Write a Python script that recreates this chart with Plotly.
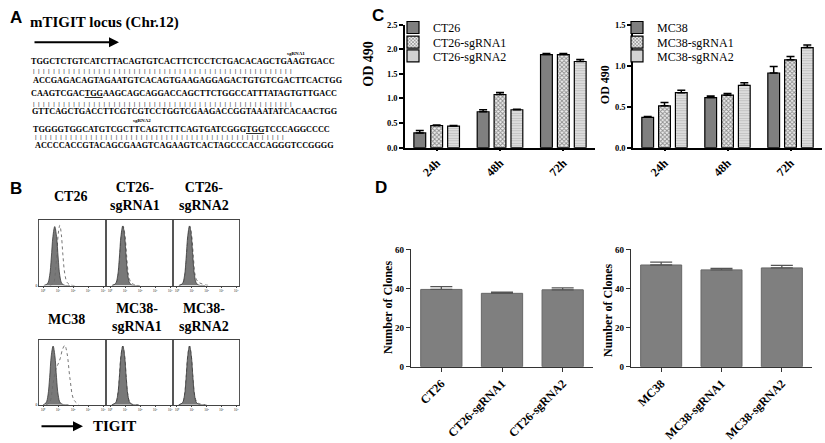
import plotly.graph_objects as go

W, H = 825, 443
SERIF = "Liberation Serif"
SANS = "Liberation Sans"

# ── Panel A: sequence ─────────────────────────────────────────────────────
seq_lines = [
    "TGGCTCTGTCATCTTACAGTGTCACTTCTCCTCTGACACAGCTGAAGTGACC",
    "ACCGAGACAGTAGAATGTCACAGTGAAGAGGAGACTGTGTCGACTTCACTGG",
    "CAAGTCGAC<u>TGG</u>AAGCAGCAGGACCAGCTTCTGGCCATTTATAGTGTTGACC",
    "GTTCAGCTGACCTTCGTCGTCCTGGTCGAAGACCGGTAAATATCACAACTGG",
    "TGGGGTGGCATGTCGCTTCAGTCTTCAGTGATCGGG<u>TGG</u>TCCCAGGCCCC",
    "ACCCCACCGTACAGCGAAGTCAGAAGTCACTAGCCCACCAGGGTCCGGGG",
]
pair_lengths = [52, 52, 50]

# ── Panel B: flow histograms (x in log10 decades, y in % of max) ──────────
hist_titles = ["CT26", "CT26-<br>sgRNA1", "CT26-<br>sgRNA2",
               "MC38", "MC38-<br>sgRNA1", "MC38-<br>sgRNA2"]
iso_x = [[0.05, 0.3, 0.44, 0.55, 0.66, 0.78, 0.9, 1.01, 1.12, 1.26, 1.5, 1.8],
         [0.12, 0.37, 0.51, 0.62, 0.73, 0.85, 0.97, 1.08, 1.19, 1.33, 1.57, 1.9],
         [0.12, 0.37, 0.51, 0.62, 0.73, 0.85, 0.97, 1.08, 1.19, 1.33, 1.57, 1.9],
         [0.0, 0.2, 0.33, 0.44, 0.55, 0.67, 0.79, 0.9, 1.01, 1.15, 1.39, 1.7],
         [0.12, 0.37, 0.51, 0.62, 0.73, 0.85, 0.97, 1.08, 1.19, 1.33, 1.57, 1.9],
         [0.12, 0.37, 0.51, 0.62, 0.73, 0.85, 0.97, 1.08, 1.19, 1.33, 1.57, 1.9]]
iso_y = [[0, 3, 15, 42, 75, 90, 75, 42, 15, 3, 0, 0],
         [0, 3, 15, 42, 76, 91, 76, 42, 15, 3, 0, 0],
         [0, 3, 15, 42, 76, 91, 76, 42, 15, 3, 0, 0],
         [0, 3, 15, 42, 76, 91, 76, 42, 15, 3, 0, 0],
         [0, 3, 15, 42, 76, 91, 76, 42, 15, 3, 0, 0],
         [0, 3, 15, 42, 76, 91, 76, 42, 15, 3, 0, 0]]
tig_x = [[0.45, 0.7, 0.82, 0.92, 1.02, 1.12, 1.22, 1.32, 1.45, 1.6, 1.8, 2.1],
         [0.15, 0.4, 0.54, 0.65, 0.76, 0.88, 1.0, 1.11, 1.23, 1.39, 1.65, 2.0],
         [0.15, 0.4, 0.54, 0.65, 0.76, 0.88, 1.0, 1.11, 1.23, 1.41, 1.75, 2.2],
         [0.2, 0.45, 0.65, 0.85, 1.0, 1.15, 1.3, 1.45, 1.6, 1.8, 2.05, 2.4],
         [0.12, 0.37, 0.51, 0.62, 0.73, 0.85, 0.97, 1.08, 1.19, 1.33, 1.57, 1.9],
         [0.12, 0.37, 0.51, 0.62, 0.73, 0.85, 0.97, 1.08, 1.19, 1.35, 1.6, 2.0]]
tig_y = [[0, 4, 20, 50, 80, 92, 78, 48, 18, 5, 1, 0],
         [0, 3, 15, 42, 76, 90, 76, 45, 17, 5, 1, 0],
         [0, 3, 15, 42, 76, 90, 76, 44, 16, 6, 2, 0],
         [0, 4, 30, 55, 63, 72, 86, 92, 80, 40, 8, 0],
         [0, 3, 15, 42, 76, 91, 76, 42, 15, 3, 0, 0],
         [0, 3, 15, 42, 76, 91, 76, 42, 16, 4, 1, 0]]
hist_ticks = [0, 1, 2, 3, 4]
hist_ticktext = ["10⁰", "10¹", "10²", "10³", "10⁴"]

# ── Panel C: OD 490 ───────────────────────────────────────────────────────
c_times = ["24h", "48h", "72h"]
ct26_names = ["CT26", "CT26-sgRNA1", "CT26-sgRNA2"]
ct26_od = [[0.30, 0.73, 1.89], [0.45, 1.08, 1.89], [0.44, 0.77, 1.75]]
ct26_od_err = [[0.05, 0.04, 0.02], [0.01, 0.04, 0.02], [0.01, 0.01, 0.04]]
mc38_names = ["MC38", "MC38-sgRNA1", "MC38-sgRNA2"]
mc38_od = [[0.37, 0.61, 0.91], [0.51, 0.64, 1.07], [0.67, 0.76, 1.22]]
mc38_od_err = [[0.01, 0.02, 0.08], [0.04, 0.02, 0.04], [0.03, 0.03, 0.03]]

# ── Panel D: clone numbers ────────────────────────────────────────────────
ct26_clones = [39.5, 37.5, 39.3]
ct26_clones_err = [1.4, 0.6, 1.0]
mc38_clones = [52.0, 49.5, 50.5]
mc38_clones_err = [1.5, 0.8, 1.3]


def px(x):
    return x / W


def py(y):
    return 1 - y / H


fig = go.Figure()

# histograms
for i in range(6):
    ax = str(i + 1)
    fig.add_trace(go.Scatter(
        x=tig_x[i], y=tig_y[i], mode="lines", line=dict(color="#777", width=1, dash="dot", shape="spline"),
        xaxis="x" + ax, yaxis="y" + ax, showlegend=False, hoverinfo="skip"))
    fig.add_trace(go.Scatter(
        x=iso_x[i], y=iso_y[i], mode="lines", fill="tozeroy", fillcolor="rgba(105,105,105,0.9)",
        line=dict(color="#3a3a3a", width=0.8, shape="spline"),
        xaxis="x" + ax, yaxis="y" + ax, showlegend=False, hoverinfo="skip"))

# panel C bars
patterns = [
    dict(color="#7f7f7f"),
    dict(color="#eeeeee", pattern=dict(shape="x", fgcolor="#2a2a2a", bgcolor="#eeeeee", size=3, solidity=0.5)),
    dict(color="#dcdcdc", pattern=dict(shape="-", fgcolor="#9a9a9a", bgcolor="#e2e2e2", size=2.5, solidity=0.45)),
]
legend_ids = [["legend", "legend2", "legend3"], ["legend4", "legend5", "legend6"]]
for k in range(3):
    for g, (names, vals, errs, ax) in enumerate([(ct26_names, ct26_od, ct26_od_err, "7"),
                                                 (mc38_names, mc38_od, mc38_od_err, "8")]):
        fig.add_trace(go.Bar(
            x=c_times, y=vals[k], name=names[k], legend=legend_ids[g][k],
            marker=dict(**patterns[k], line=dict(color="black", width=1.2)),
            error_y=dict(type="data", array=errs[k], arrayminus=[0, 0, 0], symmetric=False,
                         color="black", thickness=1.5, width=4),
            xaxis="x" + ax, yaxis="y" + ax))

# panel D bars
for groups, vals, errs, ax in [(ct26_names, ct26_clones, ct26_clones_err, "9"),
                               (mc38_names, mc38_clones, mc38_clones_err, "10")]:
    fig.add_trace(go.Bar(
        x=groups, y=vals, width=0.68, offset=-0.34, showlegend=False,
        marker=dict(color="#7f7f7f", line=dict(color="#676767", width=1)),
        error_y=dict(type="data", array=errs, arrayminus=[0, 0, 0], symmetric=False,
                     color="#555", thickness=1.3, width=11),
        xaxis="x" + ax, yaxis="y" + ax))

lay = {}
# histogram axes
hx = [(39, 106), (106, 173), (173, 239)]
hy = [(220, 287), (343, 409)]
for i in range(6):
    r, c = divmod(i, 3)
    lay["xaxis%d" % (i + 1)] = dict(
        domain=[px(hx[c][0]), px(hx[c][1])], range=[-0.27, 4.2], anchor="y%d" % (i + 1),
        showline=True, mirror=True, linecolor="#444", linewidth=1, showgrid=False, zeroline=False,
        tickvals=hist_ticks, ticktext=hist_ticktext, ticks="outside", ticklen=1.5, tickcolor="#444",
        tickfont=dict(size=3.5, family=SERIF, color="#333"), fixedrange=True)
    lay["yaxis%d" % (i + 1)] = dict(
        domain=[py(hy[r][1]), py(hy[r][0])], range=[0, 100], anchor="x%d" % (i + 1),
        showline=True, mirror=True, linecolor="#555", linewidth=1, showgrid=False, zeroline=False,
        tickvals=[0], ticktext=["0"] if c == 0 else [""], ticks="", tickfont=dict(size=3.5, family=SERIF))

axis_common = dict(showline=True, linecolor="black", linewidth=1.5, showgrid=False, zeroline=False,
                   ticks="outside", ticklen=4, tickwidth=1.5, tickcolor="black")
tick_bold = dict(family=SERIF, color="black", weight="bold")
# panel C axes
for ax, x0, x1, top in [("7", 405, 595, 2.5), ("8", 633, 822, 1.5)]:
    lay["xaxis" + ax] = dict(axis_common, domain=[px(x0), px(x1)], anchor="y" + ax, ticklen=2,
                             tickangle=-45, tickfont=dict(tick_bold, size=12))
    lay["yaxis" + ax] = dict(axis_common, domain=[py(146), py(20)], anchor="x" + ax,
                             range=[0, top], dtick=0.5, tickformat=".1f",
                             tickfont=dict(tick_bold, size=8.5))
# panel D axes
for ax, x0, x1 in [("9", 411, 593), ("10", 631, 812)]:
    lay["xaxis" + ax] = dict(axis_common, domain=[px(x0), px(x1)], anchor="y" + ax,
                             tickangle=-45, tickfont=dict(tick_bold, size=12), linecolor="#333",
                             tickcolor="#333", linewidth=1.3, tickwidth=1.3)
    lay["yaxis" + ax] = dict(axis_common, domain=[py(370), py(250)], anchor="x" + ax,
                             range=[0, 60], dtick=20, tickfont=dict(tick_bold, size=9),
                             linecolor="#333", tickcolor="#333", linewidth=1.3, tickwidth=1.3)

# one legend per entry, so the rows sit as close as in the reference
for g, lx in enumerate([393, 617]):
    for k, ly in enumerate([23, 38, 52]):
        lay[legend_ids[g][k]] = dict(bgcolor="rgba(0,0,0,0)", yanchor="middle", xanchor="left",
                                     x=px(lx), y=py(ly),
                                     font=dict(family=SERIF, size=12, color="black"))

fig.update_layout(**lay)

ann = []


def text(x, y, s, size, family=SERIF, bold=True, xanchor="center", angle=0, color="black"):
    ann.append(dict(x=px(x), y=py(y), xref="paper", yref="paper", text=s, showarrow=False,
                    xanchor=xanchor, yanchor="middle", textangle=angle,
                    font=dict(family=family, size=size, color=color, weight="bold" if bold else "normal")))


def arrow(x0, x1, y):
    ann.append(dict(x=px(x1), y=py(y), ax=x0 - x1, ay=0, xref="paper", yref="paper",
                    axref="pixel", ayref="pixel", showarrow=True, arrowhead=2, arrowsize=1,
                    arrowwidth=2, arrowcolor="black", text=""))


# panel letters
for letter, x, y in [("A", 8, 13), ("B", 8, 188), ("C", 370, 11), ("D", 373, 187)]:
    text(x, y, letter, 17, family=SANS, xanchor="left")

# panel A
text(28, 18, "mTIGIT locus (Chr.12)", 15, xanchor="left")
arrow(33, 119, 38)
seq_y = [58, 77, 91, 109, 127, 144]
seq_x = [29, 31, 29, 30, 31, 33]
for s, y, x in zip(seq_lines, seq_y, seq_x):
    text(x, y, s, 8.2, xanchor="left")
for n, y, x in zip(pair_lengths, [68, 101, 135], [31, 31, 33]):
    text(x, y, ("|" + "\u00a0\u00a0") * n, 7, bold=True, xanchor="left", color="#222")
text(296, 50, "sgRNA1", 5)
text(142, 118, "sgRNA2", 5)

# panel B titles
for t, x, y in [(hist_titles[0], 70, 196), (hist_titles[1], 135, 196), (hist_titles[2], 204, 196),
                (hist_titles[3], 66, 322), (hist_titles[4], 137, 320), (hist_titles[5], 204, 320)]:
    text(x, y, t, 14)
arrow(40, 83, 431)
text(91, 431, "TIGIT", 15, xanchor="left")

# axis titles
text(369, 60, "OD 490", 14, angle=-90)
text(605, 82, "OD 490", 12, angle=-90)
text(388, 310, "Number of Clones", 12, angle=-90)
text(608, 313, "Number of Clones", 12, angle=-90)

fig.update_layout(
    width=W, height=H, autosize=False,
    margin=dict(l=0, r=0, t=0, b=0),
    paper_bgcolor="white", plot_bgcolor="white",
    barmode="group", bargap=0.2, bargroupgap=0.3,
    annotations=ann,
    font=dict(family=SERIF, color="black"),
)

fig.write_html("out.html", config={"displayModeBar": False},
               post_script="document.body.style.margin='0';")
